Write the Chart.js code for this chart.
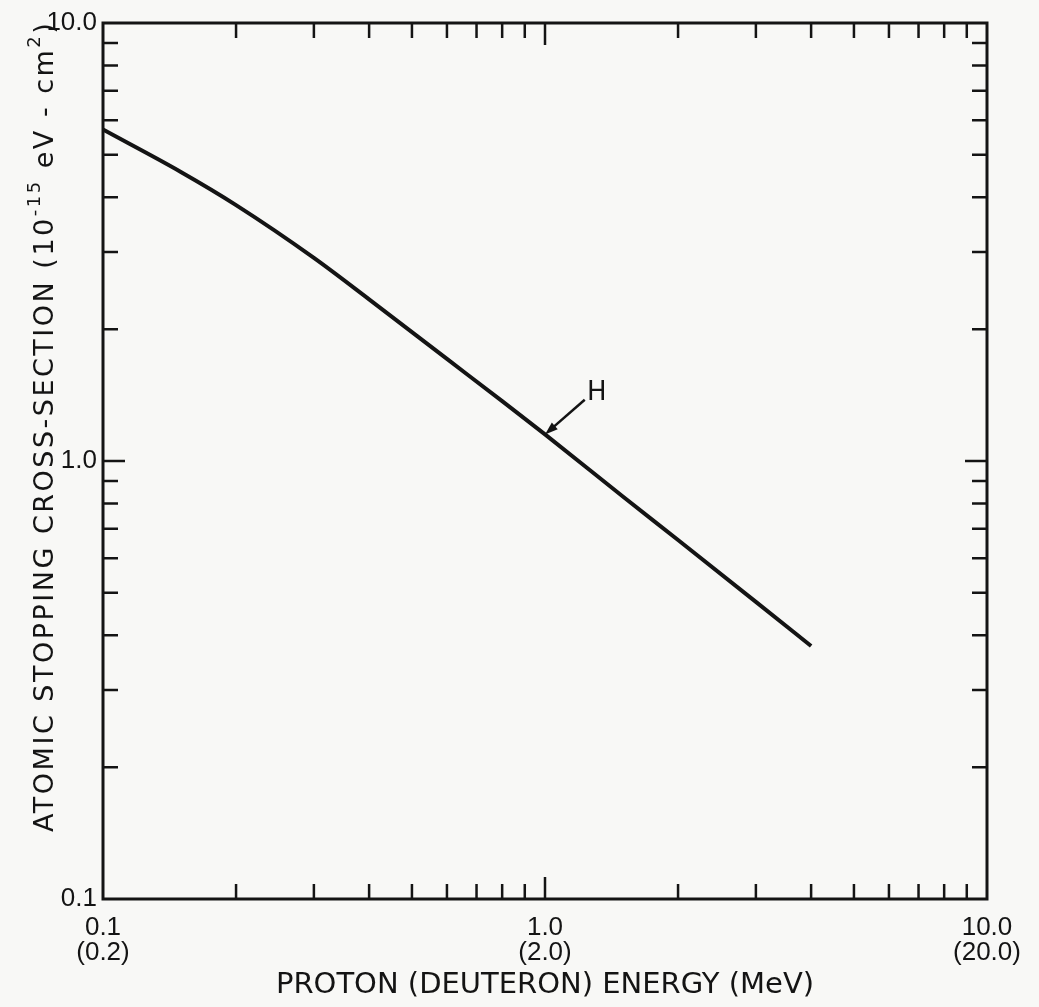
<!DOCTYPE html>
<html>
<head>
<meta charset="utf-8">
<script src="https://cdn.jsdelivr.net/npm/chart.js@4.4.1/dist/chart.umd.min.js"></script>
<style>
  html, body { margin: 0; padding: 0; background: #f8f8f6; }
  #wrap { width: 1039px; height: 1007px; }
</style>
</head>
<body>
<div id="wrap"><canvas id="stopChart" width="1039" height="1007"></canvas></div>
<script>
// values (log-log)
const energyMeV = [0.1, 0.15, 0.2, 0.3, 0.4, 0.6, 0.8, 1.0, 1.5, 2.0, 3.0, 4.0];
const crossSection = [5.71, 4.57, 3.84, 2.91, 2.34, 1.71, 1.37, 1.15, 0.83, 0.66, 0.477, 0.378];

const xTickLabels = { '0.1': ['0.1', '(0.2)'], '1': ['1.0', '(2.0)'], '10': ['10.0', '(20.0)'] };
const yTickLabels = { '0.1': '0.1', '1': '1.0', '10': '10.0' };
const decades = [0.1, 1];

const xTitle = 'PROTON (DEUTERON) ENERGY (MeV)';
const curveLabel = 'H';
const labelAt = { x: 1.31, y: 1.43 };
const arrowTail = { x: 1.23, y: 1.38 };
const arrowHead = { x: 1.0, y: 1.15 };

const ink = '#141414';
const font = 'Liberation Sans, Arial, sans-serif';
const titleFont = 'DejaVu Sans, sans-serif';

function keyOf(v) {
  return String(parseFloat(v.toPrecision(3)));
}

// frame, inward ticks, y title and the "H" arrow
const paperPlugin = {
  id: 'paper',
  beforeDraw(chart) {
    const ctx = chart.ctx;
    ctx.save();
    ctx.fillStyle = '#f8f8f6';
    ctx.fillRect(0, 0, chart.width, chart.height);
    ctx.restore();
  },
  afterDraw(chart) {
    const ctx = chart.ctx;
    const { left, right, top, bottom } = chart.chartArea;
    const xs = chart.scales.x;
    const ys = chart.scales.y;
    ctx.save();
    ctx.strokeStyle = ink;
    ctx.fillStyle = ink;
    ctx.lineWidth = 3;
    ctx.strokeRect(left, top, right - left, bottom - top);

    ctx.lineWidth = 2.5;
    decades.forEach(d => {
      for (let k = 1; k <= 9; k++) {
        if (k === 1 && d === 0.1) continue;
        const v = k * d;
        const len = (k === 1) ? 22 : 15;
        const px = xs.getPixelForValue(v);
        const py = ys.getPixelForValue(v);
        ctx.beginPath();
        ctx.moveTo(px, bottom); ctx.lineTo(px, bottom - len);
        ctx.moveTo(px, top); ctx.lineTo(px, top + len);
        ctx.moveTo(left, py); ctx.lineTo(left + len, py);
        ctx.moveTo(right, py); ctx.lineTo(right - len, py);
        ctx.stroke();
      }
    });

    // arrow to the curve
    const tx = xs.getPixelForValue(arrowTail.x), ty = ys.getPixelForValue(arrowTail.y);
    const hx = xs.getPixelForValue(arrowHead.x), hy = ys.getPixelForValue(arrowHead.y);
    const ang = Math.atan2(hy - ty, hx - tx);
    ctx.lineWidth = 2.5;
    ctx.beginPath();
    ctx.moveTo(tx, ty);
    ctx.lineTo(hx - 8 * Math.cos(ang), hy - 8 * Math.sin(ang));
    ctx.stroke();
    ctx.beginPath();
    ctx.moveTo(hx, hy);
    ctx.lineTo(hx - 13 * Math.cos(ang) + 4.5 * Math.sin(ang), hy - 13 * Math.sin(ang) - 4.5 * Math.cos(ang));
    ctx.lineTo(hx - 13 * Math.cos(ang) - 4.5 * Math.sin(ang), hy - 13 * Math.sin(ang) + 4.5 * Math.cos(ang));
    ctx.closePath();
    ctx.fill();

    ctx.font = '26px ' + titleFont;
    ctx.textAlign = 'center';
    ctx.textBaseline = 'middle';
    ctx.fillText(curveLabel, xs.getPixelForValue(labelAt.x), ys.getPixelForValue(labelAt.y));

    // y axis title with superscripts, rotated
    ctx.translate(46, 832);
    ctx.rotate(-Math.PI / 2);
    ctx.textAlign = 'left';
    ctx.textBaseline = 'middle';
    ctx.letterSpacing = '2.5px';
    const parts = [
      ['ATOMIC STOPPING CROSS-SECTION (10', 27, 0],
      ['-15', 18, -11],
      [' eV - cm', 27, 0],
      ['2', 18, -11],
      [')', 27, 0]
    ];
    let cx = 0;
    parts.forEach(([t, size, dy]) => {
      ctx.font = size + 'px ' + titleFont;
      ctx.fillText(t, cx, dy);
      cx += ctx.measureText(t).width;
    });
    ctx.restore();
  }
};

new Chart(document.getElementById('stopChart'), {
  type: 'line',
  data: {
    datasets: [{
      label: 'H',
      data: energyMeV.map((e, i) => ({ x: e, y: crossSection[i] })),
      borderColor: ink,
      borderWidth: 4,
      pointRadius: 0,
      cubicInterpolationMode: 'monotone',
      fill: false
    }]
  },
  options: {
    responsive: false,
    animation: false,
    layout: { padding: { top: 23, right: 52, left: 0, bottom: 0 } },
    plugins: {
      legend: { display: false },
      tooltip: { enabled: false }
    },
    scales: {
      x: {
        type: 'logarithmic',
        min: 0.1,
        max: 10,
        grid: { display: false, drawTicks: false },
        border: { display: false },
        afterFit: s => { s.height = 108; },
        ticks: {
          autoSkip: false,
          maxRotation: 0,
          padding: 16,
          color: ink,
          font: { family: font, size: 26, lineHeight: 0.96 },
          callback: v => xTickLabels[keyOf(v)] || ''
        },
        title: {
          display: true,
          text: xTitle,
          color: ink,
          font: { family: titleFont, size: 29 },
          padding: { top: 4 }
        }
      },
      y: {
        type: 'logarithmic',
        min: 0.1,
        max: 10,
        grid: { display: false, drawTicks: false },
        border: { display: false },
        afterFit: s => { s.width = 103; },
        ticks: {
          autoSkip: false,
          padding: 6,
          color: ink,
          font: { family: font, size: 26 },
          callback: v => yTickLabels[keyOf(v)] || ''
        }
      }
    }
  },
  plugins: [paperPlugin]
});
</script>
</body>
</html>
